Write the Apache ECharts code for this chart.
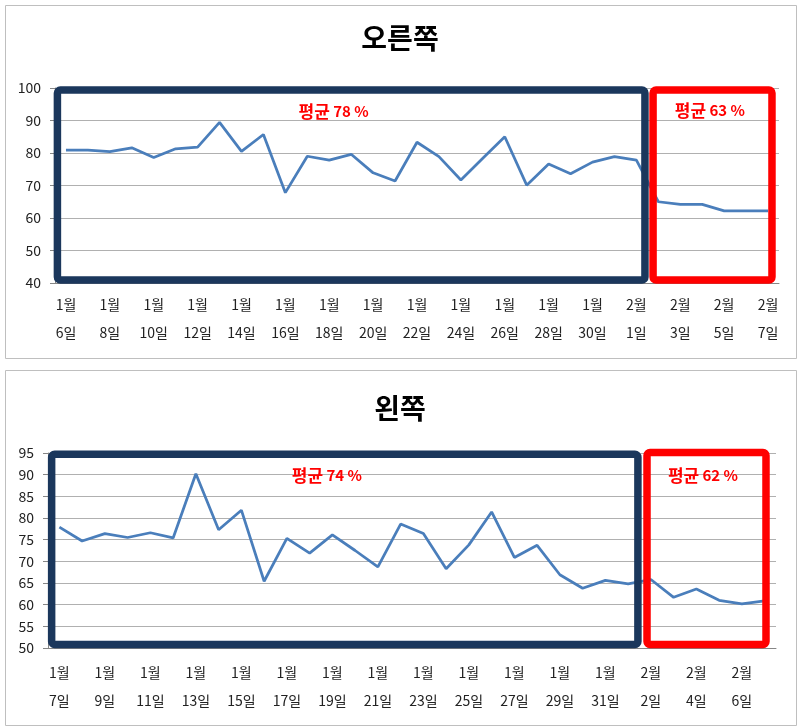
<!DOCTYPE html>
<html>
<head>
<meta charset="utf-8">
<script src="https://cdn.jsdelivr.net/npm/echarts@6/dist/echarts.min.js"></script>
<style>
html, body { margin: 0; padding: 0; background: #fff; }
#chart { width: 800px; height: 728px; }
</style>
</head>
<body>
<div id="chart"></div>
<script>
// 오른쪽 (top panel)
var rightDays = ['1월 6일', '1월 7일', '1월 8일', '1월 9일', '1월 10일', '1월 11일', '1월 12일',
	'1월 13일', '1월 14일', '1월 15일', '1월 16일', '1월 17일', '1월 18일', '1월 19일', '1월 20일',
	'1월 21일', '1월 22일', '1월 23일', '1월 24일', '1월 25일', '1월 26일', '1월 27일', '1월 28일',
	'1월 29일', '1월 30일', '1월 31일', '2월 1일', '2월 2일', '2월 3일', '2월 4일', '2월 5일',
	'2월 6일', '2월 7일'];
var rightValues = [80.9, 80.9, 80.4, 81.6, 78.6, 81.3, 81.8, 89.4, 80.5, 85.7, 67.8, 79.0, 77.8,
	79.6, 73.9, 71.4, 83.3, 78.9, 71.7, 78.4, 85.0, 70.1, 76.6, 73.6, 77.2, 78.9, 77.8,
	65.0, 64.2, 64.2, 62.2, 62.2, 62.2];

// 왼쪽 (bottom panel)
var leftDays = ['1월 7일', '1월 8일', '1월 9일', '1월 10일', '1월 11일', '1월 12일', '1월 13일',
	'1월 14일', '1월 15일', '1월 16일', '1월 17일', '1월 18일', '1월 19일', '1월 20일', '1월 21일',
	'1월 22일', '1월 23일', '1월 24일', '1월 25일', '1월 26일', '1월 27일', '1월 28일', '1월 29일',
	'1월 30일', '1월 31일', '2월 1일', '2월 2일', '2월 3일', '2월 4일', '2월 5일', '2월 6일', '2월 7일'];
var leftValues = [77.9, 74.7, 76.4, 75.5, 76.6, 75.4, 90.2, 77.3, 81.8, 65.4, 75.3, 71.9, 76.1,
	72.5, 68.7, 78.6, 76.4, 68.3, 73.8, 81.4, 70.9, 73.7, 66.9, 63.8, 65.6, 64.8,
	65.8, 61.7, 63.6, 61.0, 60.2, 60.9];

var avgLabels = [['78', '63'], ['74', '62']];

var FONT = '"Noto Sans CJK KR", "Noto Sans", sans-serif';
var chart = echarts.init(document.getElementById('chart'));

function xAxisFor(gi, days) {
	return {
		type: 'category', gridIndex: gi, data: days, boundaryGap: true,
		axisLine: { lineStyle: { color: '#868686' } },
		axisTick: { interval: 1, length: 5, lineStyle: { color: '#868686' } },
		axisLabel: {
			interval: 1, margin: gi === 0 ? 8 : 11, color: '#222', fontSize: 14,
			lineHeight: 28, fontFamily: FONT,
			formatter: function (v) { return v.replace(' ', '\n'); }
		}
	};
}

function yAxisFor(gi, min, max, step) {
	return {
		type: 'value', gridIndex: gi, min: min, max: max, interval: step,
		axisLine: { show: true, lineStyle: { color: '#868686' } },
		axisTick: { show: true, length: 5, lineStyle: { color: '#868686' } },
		axisLabel: { color: '#222', fontSize: 14, margin: 14, fontFamily: FONT },
		splitLine: { lineStyle: { color: '#b0b0b0' } }
	};
}

function lineSeries(gi, values) {
	return {
		type: 'line', xAxisIndex: gi, yAxisIndex: gi, data: values,
		symbol: 'none', smooth: false, z: 2,
		lineStyle: { color: '#4a7ebb', width: 2.75 }
	};
}

var titleStyle = { fontSize: 28, fontWeight: 'bold', color: '#000', fontFamily: FONT };

chart.setOption({
	animation: false,
	title: [
		{ text: '오른쪽', left: 'center', top: 24, padding: 0, textStyle: titleStyle },
		{ text: '왼쪽', left: 'center', top: 394, padding: 0, textStyle: titleStyle }
	],
	grid: [
		{ left: 55, top: 88, width: 724, height: 195 },
		{ left: 48, top: 453, width: 728, height: 195 }
	],
	xAxis: [xAxisFor(0, rightDays), xAxisFor(1, leftDays)],
	yAxis: [yAxisFor(0, 40, 100, 10), yAxisFor(1, 50, 95, 5)],
	series: [lineSeries(0, rightValues), lineSeries(1, leftValues)]
});

// position in a grid: b counts category widths from the left edge, v is an axis value
function px(gi, b, v) {
	var c0 = chart.convertToPixel({ gridIndex: gi }, [0, v]);
	var c1 = chart.convertToPixel({ gridIndex: gi }, [1, v]);
	var w = c1[0] - c0[0];
	return [c0[0] - w / 2 + b * w, c0[1]];
}

function box(gi, b0, b1, vTop, vBottom, color) {
	var a = px(gi, b0, vTop), b = px(gi, b1, vBottom);
	return {
		type: 'rect', z: 100,
		shape: { x: a[0], y: a[1], width: b[0] - a[0], height: b[1] - a[1], r: 3 },
		style: { fill: 'none', stroke: color, lineWidth: 7.5 }
	};
}

function avgText(gi, b, v, num) {
	var p = px(gi, b, v);
	return {
		type: 'text', z: 101, x: p[0], y: p[1],
		style: {
			text: '{a|평균} {b|' + num + ' %}', align: 'center', verticalAlign: 'middle',
			rich: {
				a: { fontSize: 17, fontWeight: 'bold', fill: '#ff0000', fontFamily: FONT },
				b: { fontSize: 15, fontWeight: 'bold', fill: '#ff0000', fontFamily: FONT }
			}
		}
	};
}

function frame(y, h) {
	return {
		type: 'rect', z: 0,
		shape: { x: 5.5, y: y, width: 791, height: h },
		style: { fill: 'none', stroke: '#bfbfbf', lineWidth: 1 }
	};
}

chart.setOption({
	graphic: [
		frame(5.5, 353),
		frame(370.5, 355),
		box(0, 0.11, 26.89, 99.4, 40.9, '#1b375c'),
		box(0, 27.26, 32.68, 99.4, 40.9, '#ff0000'),
		box(1, 0.16, 25.93, 94.7, 50.8, '#1b375c'),
		box(1, 26.33, 31.56, 95.1, 50.8, '#ff0000'),
		avgText(0, 12.7, 92.9, avgLabels[0][0]),
		avgText(0, 29.85, 93.2, avgLabels[0][1]),
		avgText(1, 12.26, 89.8, avgLabels[1][0]),
		avgText(1, 28.79, 89.8, avgLabels[1][1])
	]
});
</script>
</body>
</html>
